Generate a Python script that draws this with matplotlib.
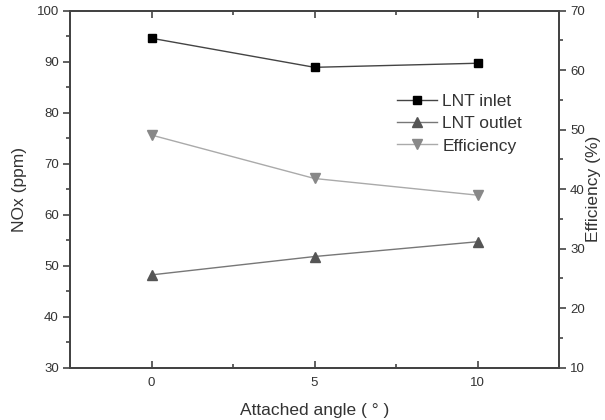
import numpy as np
import matplotlib.pyplot as plt
from matplotlib.ticker import MultipleLocator

# Data
angle = [0, 5, 10]
lnt_inlet = [94.6, 88.9, 89.7]
lnt_outlet = [48.2, 51.8, 54.7]
efficiency = [49.1, 41.8, 39.0]

plt.rcParams["font.family"] = ["Liberation Sans", "DejaVu Sans"]
txt = "#333333"
spine_c = "#444444"

fig = plt.figure(figsize=(6.05, 4.2), dpi=100)
ax = fig.add_axes([0.1157, 0.1245, 0.8083, 0.85])
ax2 = ax.twinx()

l1, = ax.plot(angle, lnt_inlet, color="#444444", lw=1.0, marker="s", ms=5.5,
              mfc="black", mec="black", label="LNT inlet")
l2, = ax.plot(angle, lnt_outlet, color="#777777", lw=1.0, marker="^", ms=6.5,
              mfc="#555555", mec="#555555", label="LNT outlet")
l3, = ax2.plot(angle, efficiency, color="#aaaaaa", lw=1.0, marker="v", ms=6.5,
               mfc="#888888", mec="#888888", label="Efficiency")

ax.set_xlim(-2.5, 12.5)
ax.set_ylim(30, 100)
ax2.set_ylim(10, 70)
ax.set_xticks([0, 5, 10])
ax.xaxis.set_minor_locator(MultipleLocator(2.5))
ax.yaxis.set_major_locator(MultipleLocator(10))
ax.yaxis.set_minor_locator(MultipleLocator(5))
ax2.yaxis.set_major_locator(MultipleLocator(10))
ax2.yaxis.set_minor_locator(MultipleLocator(5))

ax.tick_params(axis="x", which="both", direction="in", top=True, colors=spine_c,
               labelcolor=txt, labelsize=9.5, pad=7)
ax.tick_params(axis="x", which="major", length=5, width=1.2)
ax.tick_params(axis="x", which="minor", length=3, width=1.2)
ax.tick_params(axis="y", which="both", direction="out", colors=spine_c,
               labelcolor=txt, labelsize=9.5, pad=3)
ax.tick_params(axis="y", which="major", length=5, width=1.2)
ax.tick_params(axis="y", which="minor", length=3, width=1.2)
ax2.tick_params(axis="y", which="both", direction="out", colors=spine_c,
                labelcolor=txt, labelsize=9.5, pad=3)
ax2.tick_params(axis="y", which="major", length=5, width=1.2)
ax2.tick_params(axis="y", which="minor", length=3, width=1.2)

for a in (ax, ax2):
    for s in a.spines.values():
        s.set_color(spine_c)
        s.set_linewidth(1.4)

ax.set_xlabel("Attached angle ( \u00b0 )", fontsize=12.5, color=txt, labelpad=10)
ax.set_ylabel("NOx (ppm)", fontsize=12.5, color=txt, labelpad=7)
ax2.set_ylabel("Efficiency (%)", fontsize=12.5, color=txt, labelpad=1)

leg = ax.legend(handles=[l1, l2, l3], loc="center left",
                bbox_to_anchor=(0.669, 0.683), frameon=False, fontsize=12.5,
                handlelength=2.3, handletextpad=0.3, labelspacing=0.4,
                borderpad=0, borderaxespad=0, labelcolor=txt)

fig.savefig("out.png", dpi=100)
